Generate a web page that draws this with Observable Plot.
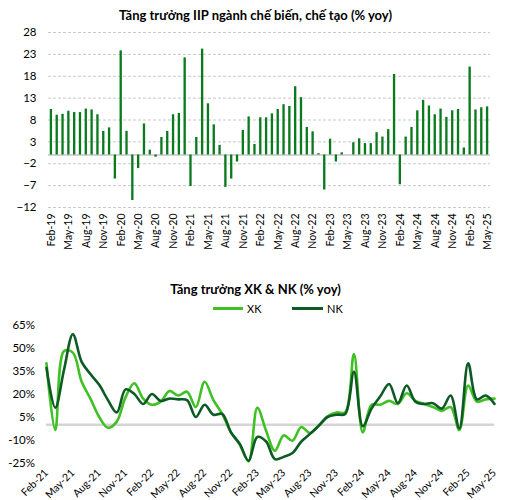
<!DOCTYPE html>
<html><head><meta charset="utf-8">
<script src="https://cdn.jsdelivr.net/npm/d3@7"></script>
<script src="https://cdn.jsdelivr.net/npm/@observablehq/plot@0.6"></script>
<style>
body{margin:0;background:#fff;font-family:Lato,"Open Sans",sans-serif;}
#wrap{position:relative;width:516px;height:500px;overflow:hidden;background:#fff}
.title{position:absolute;left:0;width:511px;text-align:center;font-weight:bold;font-size:13px;line-height:13px;color:#000;white-space:nowrap}
#p1{position:absolute;left:0;top:0}
#p2{position:absolute;left:0;top:310px}
.sw{position:absolute;height:3px}
.lt{position:absolute;font-size:11px;line-height:11px;color:#000}
</style></head>
<body><div id="wrap">
<div id="p1"></div>
<div id="p2"></div>
<div class="title" style="top:9px">Tăng trưởng IIP ngành chế biến, chế tạo (% yoy)</div>
<div class="title" style="top:283px">Tăng trưởng XK &amp; NK (% yoy)</div>
<div class="sw" style="left:213px;top:307px;width:30px;background:#3fc024"></div>
<div class="lt" style="left:247px;top:303px">XK</div>
<div class="sw" style="left:292px;top:307px;width:31px;background:#0d5a25"></div>
<div class="lt" style="left:327px;top:303px">NK</div>
</div>
<script>
// ---- Top chart data: IIP manufacturing growth (% yoy), Feb-19 .. May-25
const iipMonths = [
 "Feb-19","Mar-19","Apr-19","May-19","Jun-19","Jul-19","Aug-19","Sep-19","Oct-19","Nov-19","Dec-19",
 "Jan-20","Feb-20","Mar-20","Apr-20","May-20","Jun-20","Jul-20","Aug-20","Sep-20","Oct-20","Nov-20","Dec-20",
 "Jan-21","Feb-21","Mar-21","Apr-21","May-21","Jun-21","Jul-21","Aug-21","Sep-21","Oct-21","Nov-21","Dec-21",
 "Jan-22","Feb-22","Mar-22","Apr-22","May-22","Jun-22","Jul-22","Aug-22","Sep-22","Oct-22","Nov-22","Dec-22",
 "Jan-23","Feb-23","Mar-23","Apr-23","May-23","Jun-23","Jul-23","Aug-23","Sep-23","Oct-23","Nov-23","Dec-23",
 "Jan-24","Feb-24","Mar-24","Apr-24","May-24","Jun-24","Jul-24","Aug-24","Sep-24","Oct-24","Nov-24","Dec-24",
 "Jan-25","Feb-25","Mar-25","Apr-25","May-25"];
const iipValues = [
 10.4,9.1,9.3,10.0,9.7,9.7,10.5,10.3,9.2,5.4,6.2,
 -5.5,23.8,5.4,-10.4,-3.1,7.1,1.1,-0.5,4.0,5.4,9.2,9.5,
 22.2,-7.2,4.0,24.2,11.7,6.9,2.2,-7.4,-5.5,-1.6,5.6,8.7,
 2.4,8.5,8.5,9.4,10.4,11.5,11.1,15.6,13.1,6.3,5.3,0.3,
 -8.0,3.6,-1.6,0.5,0.0,2.8,3.7,2.6,2.6,5.1,4.1,5.8,
 18.4,-6.8,4.1,6.3,10.1,12.5,11.2,9.2,10.5,8.6,10.1,10.4,
 1.6,20.1,10.3,10.8,11.0];
const iipYTicks = [28,23,18,13,8,3,-2,-7,-12];

// ---- Bottom chart data: export (XK) & import (NK) growth (% yoy), Feb-21 .. May-25
const tradeMonths = iipMonths.slice(24);
const xkValues = [
 40,-3.5,48,47,28,17,5,-2,2,18,27,17,13,15,22,19,21.5,11.5,28,16,7,-5,-13,-24,11,-4,
 -17,-7,-10.5,-1.5,-5.5,-0.5,5.5,8,8,46,-5,13,13,15.5,13.5,20.5,15.5,13.5,11.5,9,11.5,-3.5,25.5,15,16.5,17];
const nkValues = [
 37,11,36,59,41,33,26,16,8,23,20,13.5,20,15.5,17,16.5,16,5,13,6.5,7,-5,-12.5,-23.5,-8,-11,
 -22.5,-21,-18.5,-11,-6,-0.7,5,6.5,7,34.5,-1,10.5,18.5,26.5,14,25.5,15,13.5,14,10.5,19,-2.5,40,16.5,19,13.5];
const tradeYTicks = [65,50,35,20,5,-10,-25];
const seriesNames = ["XK","NK"];
const seriesColors = ["#3fc024","#0d5a25"];

const iipData = iipMonths.map((m,i)=>({m, v: iipValues[i]}));
const iipTickLabels = iipMonths.filter((d,i)=>i%3===0);

const p1 = Plot.plot({
  width: 516, height: 262,
  marginTop: 32, marginBottom: 55, marginLeft: 48, marginRight: 26,
  style: {fontFamily: "Lato, 'Open Sans', sans-serif", fontSize: "11px", color:"#000", background:"#fff"},
  x: {type:"band", domain: iipMonths, paddingInner: 0.6, paddingOuter: 0.3, axis: null},
  y: {domain: [-12, 28], axis: null},
  marks: [
    Plot.ruleY(iipYTicks, {stroke:"#c9c9c9", strokeDasharray:"3,2", strokeWidth:1}),
    Plot.ruleY([0], {stroke:"#d4d4d4", strokeWidth:2}),
    Plot.barY(iipData, {x:"m", y:"v", fill:"#0b7a1f"}),
    Plot.axisY({ticks: iipYTicks, tickSize: 0, tickPadding: 12, fontSize: 11.5, label: null}),
    Plot.axisX({ticks: iipTickLabels, tickSize: 0, tickRotate: -90, tickPadding: 6, fontSize: 10.5, label: null})
  ]
});
document.getElementById("p1").appendChild(p1);

const tradeData = [];
tradeMonths.forEach((m,i)=>{
  tradeData.push({m, s: seriesNames[0], v: xkValues[i]});
});
tradeMonths.forEach((m,i)=>{
  tradeData.push({m, s: seriesNames[1], v: nkValues[i]});
});
const tradeTickLabels = tradeMonths.filter((d,i)=>i%3===0);

const p2 = Plot.plot({
  width: 516, height: 190,
  marginTop: 14.5, marginBottom: 37.5, marginLeft: 46, marginRight: 22,
  style: {fontFamily: "Lato, 'Open Sans', sans-serif", fontSize: "11px", color:"#000", background:"transparent"},
  x: {type:"point", domain: tradeMonths, padding: 0, axis: null},
  y: {domain: [-25, 65], axis: null},
  color: {domain: seriesNames, range: seriesColors},
  marks: [
    Plot.ruleY(tradeYTicks, {stroke:"#c9c9c9", strokeDasharray:"3,2", strokeWidth:1, x1: tradeMonths[0], x2: tradeMonths[tradeMonths.length-1]}),
    Plot.ruleY([0], {stroke:"#d4d4d4", strokeWidth:2.5}),
    Plot.line(tradeData, {x:"m", y:"v", z:"s", stroke:"s", strokeWidth: 2.6, curve:"catmull-rom"}),
    Plot.axisY({ticks: tradeYTicks, tickSize: 0, tickPadding: 11.5, tickFormat: d => d + "%", fontSize: 11.5, label: null}),
    Plot.axisX({ticks: tradeTickLabels, tickSize: 0, tickRotate: -45, tickPadding: 8, fontSize: 10.5, label: null})
  ]
});
document.getElementById("p2").appendChild(p2);
</script>
</body></html>
